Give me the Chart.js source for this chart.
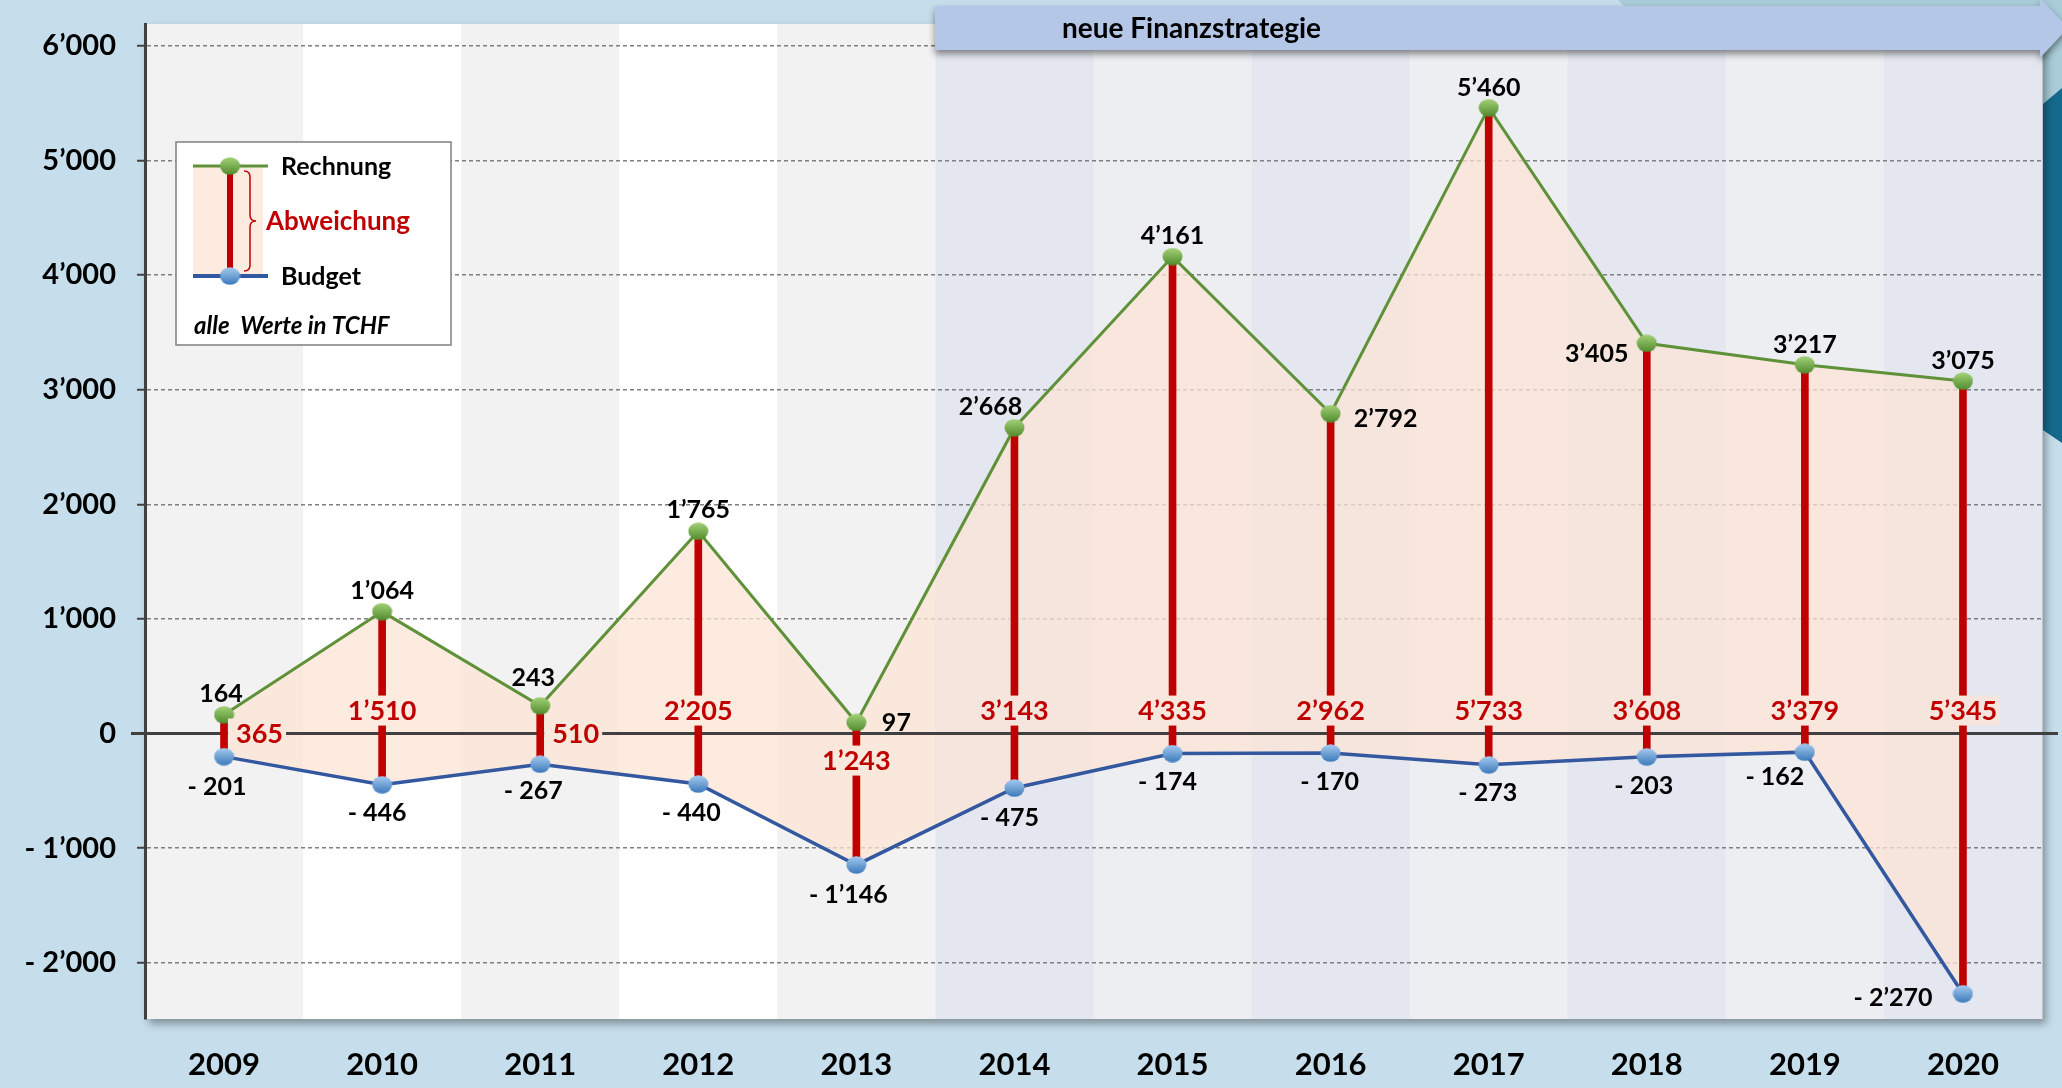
<!DOCTYPE html>
<html>
<head>
<meta charset="utf-8">
<script src="https://cdn.jsdelivr.net/npm/chart.js@4.4.1/dist/chart.umd.min.js"></script>
<style>
  html, body { margin: 0; padding: 0; background: #c6deeb; }
  canvas { display: block; }
</style>
</head>
<body>
<canvas id="finanzChart" width="2062" height="1088"></canvas>
<script>
// Werte in TCHF
var years = ['2009', '2010', '2011', '2012', '2013', '2014', '2015', '2016', '2017', '2018', '2019', '2020'];
var rechnung = [164, 1064, 243, 1765, 97, 2668, 4161, 2792, 5460, 3405, 3217, 3075];
var budget = [-201, -446, -267, -440, -1146, -475, -174, -170, -273, -203, -162, -2270];
var abweichung = [365, 1510, 510, 2205, 1243, 3143, 4335, 2962, 5733, 3608, 3379, 5345];
var yTicks = [-2000, -1000, 0, 1000, 2000, 3000, 4000, 5000, 6000];
var yMin = -2490, yMax = 6190;

// label placement (pixel offsets from the point)
var rLabelOff = [[-3, -22], [0, -22], [-7, -29], [0, -22], [40, 0], [-24, -22], [0, -22], [55, 4], [0, -21], [-50, 10], [0, -21], [0, -21]];
var bLabelOff = [[-7, 29], [-5, 27], [-7, 26], [-7, 28], [-8, 29], [-5, 29], [-5, 27], [-1, 28], [-1, 27], [-3, 28], [-30, 24], [-70, 3]];
var abwLabelPos = ['right', 'up', 'right', 'up', 'down', 'up', 'up', 'up', 'up', 'up', 'up', 'up'];

var bandColors = ['#f2f2f2', '#ffffff', '#f2f2f2', '#ffffff', '#f2f2f2',
                  '#e4e7ef', '#edeef2', '#e4e7ef', '#edeef2', '#e4e7ef', '#edeef2', '#e4e7ef'];
var FONT = 'Lato, "Noto Sans", sans-serif';
var fillRGB = [252, 228, 214], fillAlpha = 0.75;
var fillColor = 'rgba(' + fillRGB.join(',') + ',' + fillAlpha + ')';

function fmt(v) {
  var s = String(Math.abs(v)).replace(/\B(?=(\d{3})+(?!\d))/g, '\u2019');
  return v < 0 ? '- ' + s : s;
}

function blend(hex) {
  var n = parseInt(hex.slice(1), 16);
  var c = [(n >> 16) & 255, (n >> 8) & 255, n & 255];
  return 'rgb(' + c.map(function (b, k) { return Math.round(b * (1 - fillAlpha) + fillRGB[k] * fillAlpha); }).join(',') + ')';
}

function makeSphere(light, dark) {
  var c = document.createElement('canvas');
  c.width = 21; c.height = 18;
  var g = c.getContext('2d');
  var grad = g.createLinearGradient(0, 0, 0, 18);
  grad.addColorStop(0, light);
  grad.addColorStop(1, dark);
  g.fillStyle = grad;
  g.beginPath();
  g.ellipse(10.5, 9, 10, 8.7, 0, 0, Math.PI * 2);
  g.fill();
  return c;
}
var greenSphere = makeSphere('#a6d27a', '#4f8a2c');
var blueSphere = makeSphere('#a8cdf0', '#3a78bb');

// background, plot frame and year bands
var bgPlugin = {
  id: 'bgPlugin',
  beforeDraw: function (chart) {
    var ctx = chart.ctx, a = chart.chartArea, xs = chart.scales.x;
    ctx.save();
    ctx.fillStyle = '#c6deeb';
    ctx.fillRect(0, 0, chart.width, chart.height);
    ctx.fillStyle = '#a8ccd8';
    ctx.beginPath();
    ctx.moveTo(1618, 0); ctx.lineTo(2062, 0); ctx.lineTo(2062, 360); ctx.lineTo(2043, 360); ctx.lineTo(2043, 60); ctx.lineTo(1680, 60);
    ctx.closePath(); ctx.fill();
    ctx.fillStyle = '#146a8c';
    ctx.beginPath();
    ctx.moveTo(2043, 104); ctx.lineTo(2062, 88); ctx.lineTo(2062, 443); ctx.lineTo(2043, 430);
    ctx.closePath(); ctx.fill();

    ctx.shadowColor = 'rgba(0,0,0,0.35)';
    ctx.shadowBlur = 8;
    ctx.shadowOffsetX = 4;
    ctx.shadowOffsetY = 5;
    ctx.fillStyle = '#f2f2f2';
    ctx.fillRect(a.left, a.top, a.right - a.left, a.bottom - a.top);
    ctx.shadowColor = 'transparent';
    var w = (a.right - a.left) / years.length;
    years.forEach(function (y, i) {
      var cx = xs.getPixelForValue(i);
      ctx.fillStyle = bandColors[i];
      ctx.fillRect(cx - w / 2, a.top, w + 0.5, a.bottom - a.top);
    });
    ctx.restore();
  }
};

// solid zero line, over the fill
var zeroLinePlugin = {
  id: 'zeroLine',
  beforeDatasetsDraw: function (chart) {
    var ctx = chart.ctx, a = chart.chartArea;
    var y = chart.scales.y.getPixelForValue(0);
    ctx.save();
    ctx.strokeStyle = '#404040';
    ctx.lineWidth = 3;
    ctx.beginPath();
    ctx.moveTo(a.left - 14, y);
    ctx.lineTo(a.right + 16, y);
    ctx.stroke();
    ctx.restore();
  }
};

var labelPlugin = {
  id: 'valueLabels',
  afterDatasetsDraw: function (chart) {
    var ctx = chart.ctx, ys = chart.scales.y;
    var mR = chart.getDatasetMeta(0), mB = chart.getDatasetMeta(1), mA = chart.getDatasetMeta(2);
    var zero = ys.getPixelForValue(0);
    ctx.save();
    ctx.textAlign = 'center';
    ctx.textBaseline = 'alphabetic';

    ctx.font = 'bold 27px ' + FONT;
    abweichung.forEach(function (v, i) {
      var x = mA.data[i].x, txt = fmt(v), tw = ctx.measureText(txt).width;
      var cx, cy, bx;
      if (abwLabelPos[i] === 'up') { cx = x; cy = zero - 23; bx = cx - tw / 2 - 3; }
      else if (abwLabelPos[i] === 'down') { cx = x; cy = zero + 27; bx = cx - tw / 2 - 3; }
      else { cx = x + 12 + tw / 2; cy = zero; bx = x + 4; }
      ctx.fillStyle = blend(bandColors[i]);
      ctx.fillRect(bx, cy - 15, (cx + tw / 2 + 3) - bx, 30);
      ctx.fillStyle = '#c00000';
      ctx.fillText(txt, cx, cy + 9.5);
    });

    ctx.font = 'bold 25px ' + FONT;
    ctx.fillStyle = '#000000';
    rechnung.forEach(function (v, i) {
      var p = mR.data[i];
      ctx.fillText(fmt(v), p.x + rLabelOff[i][0], p.y + rLabelOff[i][1] + 9);
    });
    budget.forEach(function (v, i) {
      var p = mB.data[i];
      ctx.fillText(fmt(v), p.x + bLabelOff[i][0], p.y + bLabelOff[i][1] + 9);
    });
    ctx.restore();
  }
};

// banner and legend box
var overlayPlugin = {
  id: 'overlay',
  afterDraw: function (chart) {
    var ctx = chart.ctx;
    ctx.save();
    ctx.shadowColor = 'rgba(0,0,0,0.45)';
    ctx.shadowBlur = 7;
    ctx.shadowOffsetY = 4;
    ctx.fillStyle = '#b4c7e7';
    ctx.beginPath();
    ctx.moveTo(935, 6); ctx.lineTo(2040, 6); ctx.lineTo(2040, -2); ctx.lineTo(2068, 28);
    ctx.lineTo(2040, 58); ctx.lineTo(2040, 50); ctx.lineTo(935, 50);
    ctx.closePath(); ctx.fill();
    ctx.shadowColor = 'transparent';
    ctx.fillStyle = '#000000';
    ctx.font = 'bold 28px ' + FONT;
    ctx.textAlign = 'left';
    ctx.textBaseline = 'middle';
    ctx.fillText('neue Finanzstrategie', 1062, 29);

    // legend
    ctx.fillStyle = '#ffffff';
    ctx.fillRect(176, 142, 275, 203);
    ctx.strokeStyle = '#7f7f7f';
    ctx.lineWidth = 1.5;
    ctx.strokeRect(176, 142, 275, 203);
    ctx.fillStyle = fillColor;
    ctx.fillRect(193, 166, 70, 110);
    ctx.strokeStyle = '#5e9138'; ctx.lineWidth = 3;
    ctx.beginPath(); ctx.moveTo(193, 166); ctx.lineTo(268, 166); ctx.stroke();
    ctx.strokeStyle = '#3358a0'; ctx.lineWidth = 4;
    ctx.beginPath(); ctx.moveTo(193, 276); ctx.lineTo(268, 276); ctx.stroke();
    ctx.fillStyle = '#c00000';
    ctx.fillRect(227, 166, 6, 110);
    ctx.drawImage(greenSphere, 219.5, 157);
    ctx.drawImage(blueSphere, 219.5, 267);
    ctx.strokeStyle = '#c00000'; ctx.lineWidth = 1.5;
    ctx.beginPath();
    ctx.moveTo(244, 171);
    ctx.quadraticCurveTo(250, 171, 250, 177);
    ctx.lineTo(250, 215);
    ctx.quadraticCurveTo(250, 221, 256, 221);
    ctx.quadraticCurveTo(250, 221, 250, 227);
    ctx.lineTo(250, 265);
    ctx.quadraticCurveTo(250, 271, 244, 271);
    ctx.stroke();
    ctx.font = 'bold 25px ' + FONT;
    ctx.fillStyle = '#000000';
    ctx.fillText('Rechnung', 281, 167);
    ctx.fillText('Budget', 281, 277);
    ctx.fillStyle = '#c00000';
    ctx.font = 'bold 26px ' + FONT;
    ctx.fillText('Abweichung', 266, 222);
    ctx.fillStyle = '#000000';
    ctx.font = 'italic bold 24px ' + FONT;
    ctx.fillText('alle  Werte in TCHF', 194, 326);
    ctx.restore();
  }
};

new Chart(document.getElementById('finanzChart'), {
  type: 'line',
  data: {
    labels: years,
    datasets: [
      {
        label: 'Rechnung',
        data: rechnung,
        borderColor: '#5e9138',
        borderWidth: 3,
        tension: 0,
        pointStyle: greenSphere,
        pointRadius: 9,
        pointHoverRadius: 9,
        fill: { target: 1, above: fillColor, below: fillColor },
        order: 0
      },
      {
        label: 'Budget',
        data: budget,
        borderColor: '#3358a0',
        borderWidth: 3.5,
        tension: 0,
        pointStyle: blueSphere,
        pointRadius: 9,
        pointHoverRadius: 9,
        fill: false,
        order: 0
      },
      {
        type: 'bar',
        label: 'Abweichung',
        data: rechnung.map(function (r, i) { return [budget[i], r]; }),
        backgroundColor: '#c00000',
        barThickness: 7,
        grouped: false,
        order: 1
      }
    ]
  },
  options: {
    responsive: false,
    animation: false,
    events: [],
    layout: { padding: { top: 24, right: 20, left: 0, bottom: 0 } },
    plugins: {
      legend: { display: false },
      tooltip: { enabled: false },
      filler: { drawTime: 'beforeDatasetsDraw' }
    },
    scales: {
      x: {
        type: 'category',
        offset: true,
        grid: { display: false, drawTicks: false },
        border: { display: false },
        ticks: { color: '#000000', font: { family: FONT, size: 31, weight: 'bold' }, padding: 27 },
        afterFit: function (s) { s.height = 69; }
      },
      y: {
        min: yMin,
        max: yMax,
        afterBuildTicks: function (s) { s.ticks = yTicks.map(function (v) { return { value: v }; }); },
        afterFit: function (s) { s.width = 145; s.paddingTop = 0; s.paddingBottom = 0; },
        grid: {
          color: function (c) { return c.tick && c.tick.value === 0 ? 'rgba(0,0,0,0)' : '#7f7f7f'; },
          lineWidth: 1.5,
          drawTicks: true,
          tickLength: 8,
          tickColor: '#404040',
          tickWidth: 2
        },
        border: { display: true, color: '#404040', width: 3, dash: [4, 3] },
        ticks: {
          color: '#000000',
          font: { family: FONT, size: 29, weight: 'bold' },
          padding: 21,
          callback: function (v) { return fmt(v); }
        }
      }
    }
  },
  plugins: [bgPlugin, zeroLinePlugin, labelPlugin, overlayPlugin]
});
</script>
</body>
</html>
